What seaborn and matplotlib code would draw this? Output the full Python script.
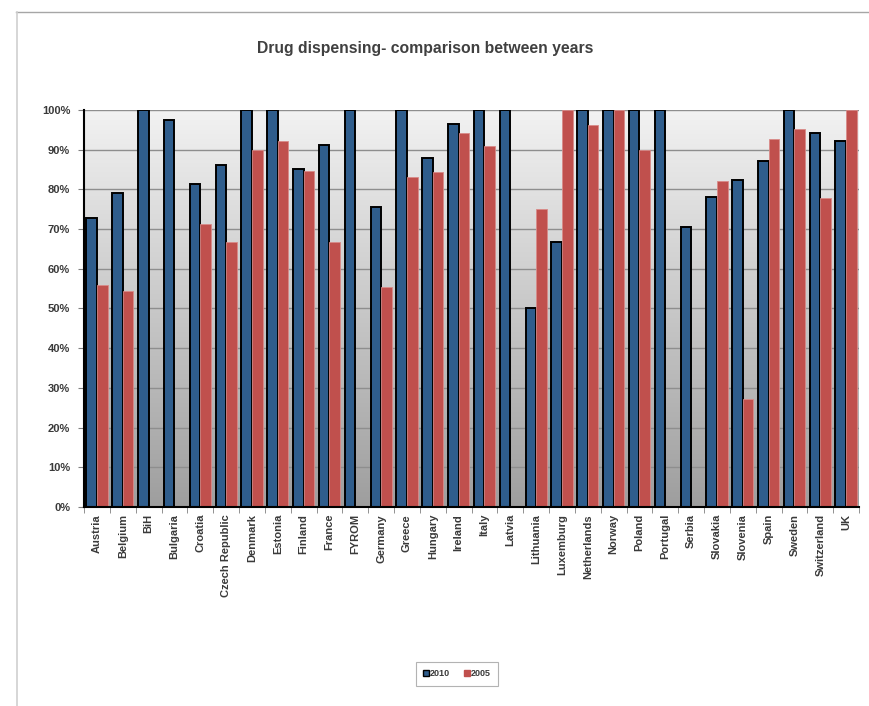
import numpy as np
import pandas as pd
import matplotlib
matplotlib.use('Agg')
import matplotlib.pyplot as plt
from matplotlib.lines import Line2D
from matplotlib.patches import Patch
import seaborn as sns

# data (fractions, NaN = no 2005 value)
countries = ["Austria", "Belgium", "BiH", "Bulgaria", "Croatia", "Czech Republic",
             "Denmark", "Estonia", "Finland", "France", "FYROM", "Germany", "Greece",
             "Hungary", "Ireland", "Italy", "Latvia", "Lithuania", "Luxemburg",
             "Netherlands", "Norway", "Poland", "Portugal", "Serbia", "Slovakia",
             "Slovenia", "Spain", "Sweden", "Switzerland", "UK"]
val_2010 = [0.727, 0.792, 1.0, 0.975, 0.813, 0.861, 1.0, 1.0, 0.851, 0.913, 1.0,
            0.755, 1.0, 0.878, 0.965, 1.0, 1.0, 0.50, 0.667, 1.0, 1.0, 1.0, 1.0,
            0.705, 0.781, 0.824, 0.872, 1.0, 0.941, 0.923]
val_2005 = [0.559, 0.544, np.nan, np.nan, 0.713, 0.667, 0.90, 0.922, 0.846, 0.667,
            np.nan, 0.553, 0.832, 0.843, 0.943, 0.91, np.nan, 0.75, 1.0, 0.962,
            1.0, 0.90, np.nan, np.nan, 0.821, 0.271, 0.928, 0.951, 0.779, 1.0]
years = ["2010", "2005"]
yticks = np.arange(0, 1.01, 0.1)

c2010 = "#2F5D8C"
c2005 = "#C0504D"

df = pd.DataFrame({
    "country": countries * 2,
    "year": ["2010"] * len(countries) + ["2005"] * len(countries),
    "value": val_2010 + val_2005,
})

plt.rcParams['font.family'] = ['Liberation Sans', 'DejaVu Sans']

fig = plt.figure(figsize=(8.69, 7.06), dpi=100)
ax = fig.add_axes([0.0967, 0.2819, 0.8918, 0.5623])

n = len(countries)
# gradient background, light at top, darker at bottom
grad = np.linspace(0, 1, 256).reshape(-1, 1)
cmap = matplotlib.colors.LinearSegmentedColormap.from_list("bg", ["#F2F2F2", "#9E9E9E"])
ax.imshow(grad, aspect='auto', cmap=cmap, extent=[-0.5, n - 0.5, 0.0, 1.0],
          origin='upper', zorder=0, interpolation='bicubic')

for t in yticks[1:]:
    ax.axhline(t, color="#8E8E8E", lw=1.0, zorder=1)

sns.barplot(data=df, x="country", y="value", hue="year", hue_order=years,
            palette=[c2010, c2005], width=0.82, gap=0, ax=ax, legend=False,
            saturation=1, zorder=2)

for p in ax.containers[0]:
    p.set_edgecolor("black")
    p.set_linewidth(1.4)
for p in ax.containers[1]:
    p.set_edgecolor("#D98A88")
    p.set_linewidth(0.6)

ax.set_xlim(-0.5, n - 0.5)
ax.set_ylim(0, 1.0)
ax.set_yticks(yticks)
ax.set_yticklabels([f"{int(round(t * 100))}%" for t in yticks],
                   fontsize=8, fontweight='bold', color="#3A3A3A")
ax.set_xticks(range(n))
ax.set_xticklabels(countries, rotation=90, fontsize=8, fontweight='bold', color="#3A3A3A")
ax.set_xticks(np.arange(-0.5, n, 1), minor=True)
ax.tick_params(axis='x', which='major', length=0, pad=5)
ax.tick_params(axis='x', which='minor', length=4, color="#808080")
ax.tick_params(axis='y', length=4, color="#808080", pad=6)
ax.set_xlabel("")
ax.set_ylabel("")

for s in ["top", "right"]:
    ax.spines[s].set_visible(False)
ax.spines["left"].set_linewidth(1.5)
ax.spines["bottom"].set_linewidth(1.5)

fig.text(0.489, 0.932, "Drug dispensing- comparison between years", ha='center', va='center',
         fontsize=11.3, fontweight='bold', color="#404040")

# outer frame lines like the original chart area
fig.add_artist(Line2D([16 / 869, 1.0], [1 - 12 / 706, 1 - 12 / 706], color="#A6A6A6", lw=1.0))
fig.add_artist(Line2D([16.5 / 869, 16.5 / 869], [0, 1 - 12 / 706], color="#D0D0D0", lw=1.2))

handles = [Patch(facecolor=c2010, edgecolor="black", lw=1.0),
           Patch(facecolor=c2005, edgecolor=c2005)]
leg = fig.legend(handles, years, loc='center', bbox_to_anchor=(457 / 869, 1 - 674 / 706),
                 ncol=2, frameon=True, fancybox=False, edgecolor="#A0A0A0",
                 handlelength=0.6, handleheight=0.6, handletextpad=0.1, columnspacing=1.6,
                 borderpad=0.8, prop={'weight': 'bold', 'size': 6.5})
for t in leg.get_texts():
    t.set_color("#3A3A3A")
leg.get_frame().set_linewidth(0.8)

fig.savefig("out.png", dpi=100, facecolor="white")
